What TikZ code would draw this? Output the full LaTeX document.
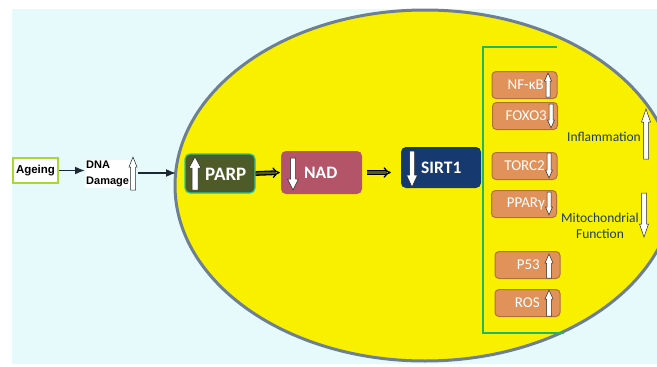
\documentclass[tikz,border=0pt]{standalone}
\usepackage{fontspec}
\setmainfont{Carlito}
\newfontfamily\arialf{Liberation Sans}
\usetikzlibrary{arrows.meta}
\definecolor{bgc}{HTML}{E6FAFB}
\definecolor{yell}{HTML}{F9F000}
\definecolor{ellb}{HTML}{6F7F93}
\definecolor{brk}{HTML}{1FB85C}
\definecolor{parpc}{HTML}{4E5A27}
\definecolor{parpb}{HTML}{31C48A}
\definecolor{nadc}{HTML}{B35468}
\definecolor{sirtc}{HTML}{163A70}
\definecolor{orc}{HTML}{E0925A}
\definecolor{orb}{HTML}{B0703C}
\definecolor{dblue}{HTML}{1F3A68}
\definecolor{limec}{HTML}{A8D930}
\definecolor{arrc}{HTML}{1C2833}
\tikzset{
  blockarr/.style={draw=black!85, fill=white, line width=0.5pt, line join=miter},
  pics/uarr/.style n args={4}{code={\draw[blockarr] (-#3,0) -- (-#3,-#1+#4) -- (-#2,-#1+#4) -- (0,-#1) -- (#2,-#1+#4) -- (#3,-#1+#4) -- (#3,0) -- cycle;}},
  pics/darr/.style n args={4}{code={\draw[blockarr] (-#3,0) -- (-#3,#1-#4) -- (-#2,#1-#4) -- (0,#1) -- (#2,#1-#4) -- (#3,#1-#4) -- (#3,0) -- cycle;}},
  bigbox/.style={rounded corners=5pt, inner sep=0pt},
  bigtxt/.style={text=white, font=\bfseries\fontsize{17.5}{19}\selectfont, anchor=west, inner sep=0pt},
  orbox/.style={draw=orb, fill=orc, line width=1pt, rounded corners=4pt, minimum width=65, minimum height=27, inner sep=0pt},
  ortxt/.style={text=white, font=\fontsize{15}{17}\selectfont, anchor=east, inner sep=0pt},
  conn/.style={draw=arrc, line width=1.6pt, -{Latex[length=10pt,width=8pt]}},
  dblconn/.style={draw=black, double=parpc, double distance=2.2pt, line width=1.3pt, -{Implies}},
  sidetxt/.style={text=dblue, font=\fontsize{13.5}{16}\selectfont, align=center, inner sep=0pt}
}
\begin{document}
\begin{tikzpicture}[x=1pt,y=-1pt]
\useasboundingbox (0,0) rectangle (657,367);
\clip (0,0) rectangle (657,367);
\fill[bgc] (12,9) rectangle (657,364);
% cell
\draw[ellb, fill=yell, line width=3pt] (425,185.5) ellipse [x radius=250, y radius=175.5];
\coordinate (cellL) at (176,173);
% left chain
\node[draw=limec, line width=2pt, fill=white, minimum width=45, minimum height=25, inner sep=0pt,
      font=\arialf\bfseries\fontsize{11.5}{13}\selectfont] (ageing) at (35.5,170.5) {Ageing};
\node[fill=white, anchor=west, inner sep=1pt, align=left,
      font=\arialf\bfseries\fontsize{11}{16}\selectfont] (dna) at (85,174) {DNA\\Damage};
\pic at (133,190) {uarr={33}{4}{2.5}{10}};
\coordinate (dnaend) at (138,173);
\draw[conn] (ageing.east) -- (ageing.east -| dna.west);
\draw[conn] (dnaend) -- (cellL);
% main boxes
\node[bigbox, draw=parpb, line width=1.2pt, fill=parpc, minimum width=70, minimum height=39] (parp) at (220,173.5) {};
\pic at (195,190) {uarr={33}{6}{3}{11}};
\node[bigtxt, font=\bfseries\fontsize{19}{21}\selectfont] (parpt) at (205,174) {PARP};
\node[bigbox, fill=nadc, minimum width=81, minimum height=43] (nad) at (321.5,172.5) {};
\pic at (293,158) {darr={32}{5.5}{2.5}{11}};
\node[bigtxt] (nadt) at (304,172.5) {NAD};
\node[bigbox, fill=sirtc, minimum width=80, minimum height=41] (sirt) at (441,167.5) {};
\pic at (412,151) {darr={36}{5.5}{2.5}{12}};
\node[bigtxt] (sirtt) at (421,168) {SIRT1};
\draw[dblconn, shorten >=1pt] (parp.east) -- (nad.west);
\draw[dblconn, shorten <=5pt, shorten >=10pt] (nad.east) -- (sirt.west |- nad.east);
% bracket
\draw[brk, line width=2.5pt] (557,47) -- (483,47) -- (483,333) -- (564,333);
% orange boxes
\node[orbox] (nfkb) at (524.5,85) {};
\node[ortxt] (nfkbt) at (544,85) {NF-κB};
\pic at (548,97) {uarr={24}{3.5}{2}{8}};
\node[orbox] (foxo) at (525,116) {};
\node[ortxt] (foxot) at (547,116) {FOXO3};
\pic at (551,104) {darr={24}{3.5}{2}{8}};
\node[orbox] (torc) at (524.5,166) {};
\node[ortxt] (torct) at (545,166) {TORC2};
\pic at (549,153) {darr={25}{3.5}{2}{8}};
\node[orbox] (ppar) at (524,204) {};
\node[ortxt] (ppart) at (545,204) {PPARγ};
\pic at (549,192) {darr={23}{3.5}{2}{8}};
\node[orbox] (p53) at (527.5,265) {};
\node[ortxt] (p53t) at (540,265) {P53};
\pic at (549,278) {uarr={24}{4}{2.5}{9}};
\node[orbox] (ros) at (527.5,303) {};
\node[ortxt] (rost) at (540,303) {ROS};
\pic at (549,316) {uarr={26}{4}{2.5}{9}};
% side outcomes
\node[sidetxt] (infl) at (604,137) {Inflammation};
\pic at (646,159) {uarr={50}{4.5}{2.5}{13}};
\node[sidetxt] (mito) at (600,226) {Mitochondrial\\Function};
\pic at (644,193) {darr={44}{4.5}{2.5}{13}};
\end{tikzpicture}
\end{document}
